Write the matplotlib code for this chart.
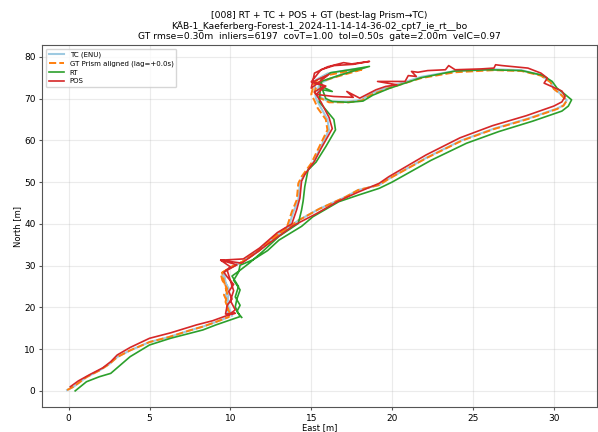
import matplotlib.pyplot as plt

# trajectories (East, North in metres)
tc_e = [-0.1, 0.3, 1.1, 1.9, 2.5, 3.0, 3.8, 5.0, 6.2, 7.5, 8.3, 9.1, 9.9,
        9.8, 9.9, 9.7, 9.9, 9.6, 9.5, 9.9,
        10.8, 11.8, 13.0, 14.2, 15.5, 17.1, 17.9, 19.2, 19.8,
        22.2, 24.3, 26.3, 28.4, 30.2, 30.6, 30.8, 30.4, 30.0, 29.8, 29.2, 28.0, 26.3, 23.9, 21.8, 19.8, 18.7, 18.1, 17.3, 16.1,
        15.6, 15.4, 15.5, 16.2, 17.0, 18.3, 17.2, 16.0, 15.3, 15.2, 15.3, 15.5,
        16.0, 16.1, 15.5, 15.1, 14.5, 14.3, 14.2, 13.9, 13.6,
        12.8, 11.7, 10.7, 10.1,
        9.6, 9.7, 9.9, 9.8, 10.0, 10.1]
tc_n = [0.2, 1.0, 3.3, 4.9, 6.4, 8.1, 9.7, 11.7, 12.9, 14.5, 15.4, 16.5, 17.7,
        19.5, 21.3, 23.0, 24.5, 26.5, 28.1, 29.3,
        31.0, 33.7, 37.6, 40.8, 43.6, 46.4, 48.1, 49.3, 50.8,
        56.0, 60.0, 62.8, 65.2, 67.6, 68.4, 69.6, 71.2, 72.4, 74.0, 75.6, 76.8, 77.0, 76.6, 75.2, 72.8, 71.2, 69.7, 69.3, 69.3,
        70.2, 72.0, 73.6, 74.8, 75.9, 77.4, 76.8, 76.0, 74.5, 72.0, 70.0, 68.5,
        65.0, 62.5, 57.7, 54.5, 51.3, 49.7, 45.7, 42.9, 39.3,
        37.2, 33.4, 30.8, 29.8,
        28.5, 26.0, 23.5, 21.0, 19.0, 18.0]

gt_e = [-0.1, 0.3, 1.1, 1.9, 2.5, 3.0, 3.8, 5.0, 6.2, 7.5, 8.3, 9.1, 9.9,
        9.8, 9.8, 9.6, 9.8, 9.5, 9.4, 9.9,
        10.8, 11.8, 13.0, 14.2, 15.5, 17.1, 17.9, 19.2, 19.8,
        22.2, 24.3, 26.3, 28.4, 30.2, 30.6, 30.8, 30.4, 30.0, 29.8, 29.2, 28.0, 26.3, 23.9, 21.8, 19.8, 18.7, 18.1, 17.3, 16.1,
        15.5, 15.2, 15.4, 16.2, 17.0, 18.1, 17.2, 16.0, 15.2, 15.0, 15.2, 15.4,
        15.9, 16.0, 15.4, 15.0, 14.4, 14.2, 14.1, 13.8, 13.5,
        12.8, 11.7, 10.7, 10.1,
        9.5, 9.6, 9.8, 9.7, 9.9, 10.0]
gt_n = [0.2, 1.0, 3.3, 4.9, 6.4, 8.1, 9.7, 11.7, 12.9, 14.5, 15.4, 16.5, 17.7,
        19.5, 21.3, 23.0, 24.5, 26.5, 28.1, 29.3,
        31.0, 33.7, 37.6, 40.8, 43.6, 46.4, 48.1, 49.3, 50.8,
        55.9, 59.9, 62.7, 65.1, 67.5, 68.3, 69.5, 71.1, 72.3, 73.9, 75.5, 76.6, 76.8, 76.3, 74.9, 72.5, 70.9, 69.5, 69.1, 69.1,
        70.2, 71.5, 73.8, 74.8, 75.7, 76.9, 76.5, 75.6, 74.0, 71.0, 69.5, 67.7,
        65.0, 62.5, 57.7, 54.5, 51.3, 49.7, 45.7, 42.9, 39.3,
        37.2, 33.4, 30.8, 29.8,
        28.3, 26.3, 23.3, 21.3, 19.2, 18.0]

rt_e = [0.4, 1.1, 1.9, 2.6, 3.2, 3.8, 5.0, 6.3, 7.5, 8.3, 9.1, 10.6,
        10.3, 10.4, 10.6, 10.2, 10.5, 10.6,
        11.4, 12.3, 13.0, 14.4, 15.1, 16.7, 18.0, 19.2, 20.0,
        22.4, 24.6, 26.6, 28.7, 30.5, 30.9, 31.1, 30.6, 30.2, 29.9, 29.3, 28.0, 25.9, 23.9, 21.8, 19.8, 18.8, 18.2, 17.3, 16.3,
        15.9, 15.7, 16.3, 15.7, 15.6, 16.6, 17.6, 18.6, 17.4, 16.2, 15.6, 15.5,
        16.4, 16.5, 15.9, 15.3, 14.8, 14.6, 14.5, 14.4, 14.2,
        13.0, 12.0, 11.2, 10.6,
        10.1, 10.5, 10.3, 10.6, 10.4, 10.7]
rt_n = [0.0, 2.2, 3.4, 4.2, 6.2, 8.2, 11.0, 12.6, 13.8, 14.6, 15.8, 17.8,
        20.1, 22.0, 24.2, 26.5, 28.4, 30.1,
        31.4, 33.6, 36.1, 39.4, 41.7, 45.3, 47.0, 48.5, 50.0,
        55.2, 59.3, 62.1, 64.6, 67.0, 68.2, 69.7, 71.3, 72.5, 74.1, 75.6, 76.7, 76.9, 76.6, 75.0, 72.4, 70.8, 69.4, 69.1, 69.3,
        70.0, 72.1, 71.7, 72.8, 74.1, 75.4, 76.6, 77.7, 76.9, 76.2, 74.5, 69.2,
        65.0, 62.5, 58.5, 54.8, 52.9, 48.9, 45.5, 43.3, 40.1,
        37.0, 33.4, 30.7, 28.9,
        27.5, 25.0, 22.5, 20.5, 19.0, 17.6]

pos_e = [0.1, 0.6, 1.3, 2.1, 2.6, 3.0, 3.8, 5.0, 6.3, 7.9, 8.9, 9.9, 10.3, 9.7,
         9.8, 10.1, 9.9, 10.2, 9.8, 9.6, 10.0, 9.4, 10.7,
         11.5, 12.8, 13.9, 15.3, 16.6, 17.9, 19.2, 19.8,
         22.1, 24.2, 26.2, 28.3, 30.0, 30.5, 30.7, 30.5, 29.4, 29.6, 29.2, 28.4, 26.8, 26.4, 26.3, 25.5, 23.9, 23.5, 23.3, 22.2,
         21.6, 21.2, 21.5, 21.0, 20.8, 20.2, 19.1, 20.3, 19.6, 19.0, 18.0, 17.2, 17.6, 16.4,
         15.3, 15.9, 15.1, 16.1, 15.0, 15.2, 16.0, 17.0, 17.5, 18.6, 17.6, 16.4, 15.6, 15.0, 15.8, 15.2, 15.6,
         16.1, 16.3, 15.6, 15.2, 14.6, 14.4, 14.3, 14.1, 13.8,
         12.9, 11.8, 10.8, 9.4, 10.4,
         9.8, 10.0, 10.2, 10.0, 10.3, 9.9]
pos_n = [1.0, 2.4, 3.9, 5.5, 7.0, 8.6, 10.4, 12.6, 13.9, 15.8, 16.8, 18.2, 18.6, 18.4,
         20.5, 22.0, 23.8, 25.5, 27.3, 28.4, 29.7, 31.3, 30.6,
         32.8, 36.5, 39.6, 42.4, 45.3, 47.6, 49.7, 51.3,
         56.5, 60.6, 63.5, 65.9, 68.2, 69.2, 70.5, 71.8, 73.7, 74.9, 76.1, 77.3, 77.9, 78.1, 77.3, 77.1, 76.9, 77.9, 76.9, 76.7,
         76.3, 76.5, 75.3, 75.5, 74.1, 74.1, 74.1, 73.3, 72.9, 72.1, 70.1, 71.7, 70.3, 70.5,
         71.0, 73.0, 74.0, 75.8, 72.5, 76.1, 77.6, 78.6, 78.3, 78.9, 78.2, 77.9, 76.9, 74.0, 73.0, 71.6, 69.2,
         65.5, 62.8, 58.0, 55.0, 51.8, 50.2, 46.2, 43.4, 40.0,
         37.9, 34.2, 31.6, 31.3, 30.2,
         28.9, 26.4, 24.0, 21.6, 19.4, 18.2]

title = ("[008] RT + TC + POS + GT (best-lag Prism\u2192TC)\n"
         "K\u00c4B-1_Kaeferberg-Forest-1_2024-11-14-14-36-02_cpt7_ie_rt__bo\n"
         "GT rmse=0.30m  inliers=6197  covT=1.00  tol=0.50s  gate=2.00m  velC=0.97")

fig = plt.figure(figsize=(5.98, 4.32), dpi=100)
ax = fig.add_axes([0.07, 0.057, 0.928, 0.839])

ax.plot(tc_e, tc_n, color="#9ecae1", lw=1.5, label="TC (ENU)")
ax.plot(gt_e, gt_n, color="tab:orange", lw=1.4, ls="--", label="GT Prism aligned (lag=+0.0s)")
ax.plot(rt_e, rt_n, color="tab:green", lw=1.2, label="RT")
ax.plot(pos_e, pos_n, color="tab:red", lw=1.2, label="POS")

ax.set_title(title, fontsize=6.6, pad=4)
ax.set_xlabel("East [m]", fontsize=6, labelpad=0)
ax.set_ylabel("North [m]", fontsize=6, labelpad=1.5)
ax.tick_params(labelsize=6.5, length=2.5, pad=2, color="#555555")
for s in ax.spines.values():
    s.set_color("#555555")
ax.grid(True, alpha=0.25)
ax.legend(loc="upper left", fontsize=5, labelspacing=0.35, handlelength=2.2,
          borderpad=0.4, borderaxespad=0.6)

plt.savefig("out.png", dpi=100)
